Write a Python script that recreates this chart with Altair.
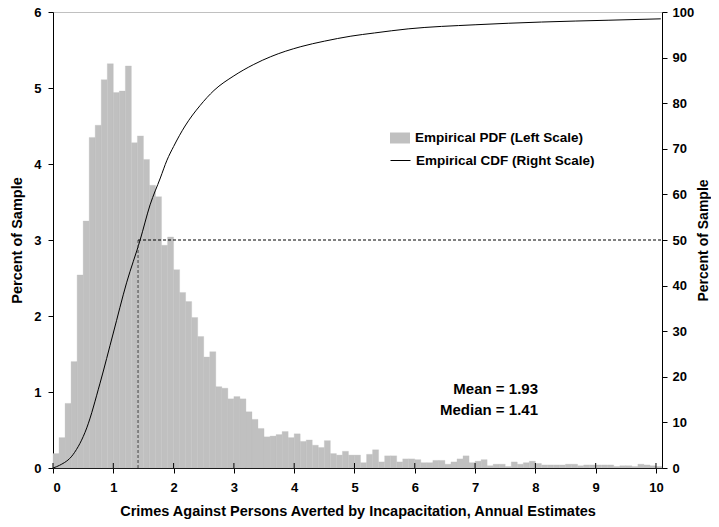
import altair as alt
import pandas as pd

# ---- data ----
bin_width = 0.1
pdf_values = [
    0.19, 0.40, 0.85, 1.40, 2.54, 3.25, 4.35, 4.51, 5.11, 5.32,
    4.94, 4.96, 5.29, 4.28, 4.37, 4.06, 3.72, 3.57, 2.93, 3.04,
    2.61, 2.31, 2.19, 1.98, 1.73, 1.46, 1.53, 1.07, 1.05, 0.91,
    0.94, 0.91, 0.74, 0.64, 0.52, 0.41, 0.42, 0.44, 0.48, 0.40,
    0.45, 0.35, 0.37, 0.30, 0.27, 0.36, 0.19, 0.17, 0.22, 0.17,
    0.17, 0.07, 0.18, 0.24, 0.08, 0.16, 0.16, 0.08, 0.12, 0.12,
    0.11, 0.07, 0.07, 0.10, 0.10, 0.05, 0.08, 0.12, 0.16, 0.07,
    0.09, 0.11, 0.03, 0.05, 0.05, 0.02, 0.08, 0.05, 0.07, 0.09,
    0.06, 0.04, 0.04, 0.04, 0.04, 0.05, 0.05, 0.03, 0.04, 0.04,
    0.04, 0.04, 0.04, 0.02, 0.03, 0.03, 0.02, 0.05, 0.04, 0.03,
    0.02,
]
bin_start = [round(i * bin_width, 1) for i in range(len(pdf_values))]

cdf_x = [0.0, 0.11, 0.33, 0.56, 0.78, 1.0, 1.22, 1.445, 1.61, 1.78, 1.89, 2.0,
         2.19, 2.44, 2.67, 3.0, 3.33, 3.61, 4.11, 4.5, 4.94, 5.33, 5.89, 7.0,
         8.1, 9.22, 10.08]
cdf_y = [0.0, 0.6, 2.9, 8.8, 18.6, 29.6, 40.6, 50.0, 57.7, 63.6, 67.5, 70.5,
         75.0, 79.5, 82.8, 86.0, 88.5, 90.2, 92.4, 93.6, 94.7, 95.4, 96.3, 97.2,
         97.8, 98.2, 98.5]

x_ticks = [0, 1, 2, 3, 4, 5, 6, 7, 8, 9, 10]
left_ticks = [0, 1, 2, 3, 4, 5, 6]
right_ticks = [0, 10, 20, 30, 40, 50, 60, 70, 80, 90, 100]

mean_value = 1.93
median_value = 1.41
median_cdf = 50.0
pdf_label = "Empirical PDF (Left Scale)"
cdf_label = "Empirical CDF (Right Scale)"
x_title = "Crimes Against Persons Averted by Incapacitation, Annual Estimates"
y_title = "Percent of Sample"

x_max = 10.1
FONT = "Liberation Sans"
GRAY = "#c0c0c0"

pdf_df = pd.DataFrame({
    "start": bin_start,
    "end": [round(s + bin_width, 1) for s in bin_start],
    "pdf": pdf_values,
    "pdf_series": pdf_label,
})
cdf_df = pd.DataFrame({"x": cdf_x, "cdf": cdf_y, "cdf_series": cdf_label})

W, H = 609, 456

x_scale = alt.Scale(domain=[0, x_max], nice=False, zero=False)
y_left_scale = alt.Scale(domain=[0, 6], nice=False)
y_right_scale = alt.Scale(domain=[0, 100], nice=False)

x_axis = alt.Axis(values=x_ticks, title=x_title, tickSize=5, labelPadding=8,
                  titlePadding=10, grid=False, format="d")

legend_common = dict(title=None, orient="none", labelFont=FONT, labelFontSize=13.5,
                     labelFontWeight="bold", labelColor="black", labelOffset=5,
                     labelLimit=400)

bars = alt.Chart(pdf_df).mark_rect(stroke=GRAY, strokeWidth=0.3).encode(
    x=alt.X("start:Q", scale=x_scale, axis=x_axis),
    x2="end:Q",
    y=alt.Y("pdf:Q", scale=y_left_scale,
            axis=alt.Axis(values=left_ticks, title=y_title, orient="left",
                          tickSize=5, labelPadding=7, titlePadding=9, grid=False)),
    y2=alt.datum(0),
    fill=alt.Fill("pdf_series:N",
                  scale=alt.Scale(domain=[pdf_label], range=[GRAY]),
                  legend=alt.Legend(legendX=337, legendY=116,
                                    symbolType="M-1,-0.55H1V0.55H-1Z", symbolSize=400,
                                    symbolStrokeWidth=0, **legend_common)),
)

# inner halves of the crossing x-axis ticks
tick_df = pd.DataFrame({"t": x_ticks})
inner_ticks = alt.Chart(tick_df).mark_rule(color="black", strokeWidth=1).encode(
    x=alt.X("t:Q", scale=x_scale),
    y=alt.value(H - 5),
    y2=alt.value(H),
)

note_style = dict(align="right", baseline="middle", font=FONT, fontSize=15,
                  fontWeight="bold", color="black")
mean_df = pd.DataFrame({"txt": [f"Mean = {mean_value:.2f}"]})
median_df = pd.DataFrame({"txt": [f"Median = {median_value:.2f}"]})
mean_note = alt.Chart(mean_df).mark_text(**note_style).encode(
    x=alt.value(485), y=alt.value(377), text="txt:N")
median_note = alt.Chart(median_df).mark_text(**note_style).encode(
    x=alt.value(485), y=alt.value(398), text="txt:N")

left_layer = alt.layer(bars, inner_ticks, mean_note, median_note)

cdf_line = alt.Chart(cdf_df).mark_line(strokeWidth=1, interpolate="monotone").encode(
    x=alt.X("x:Q", scale=x_scale),
    y=alt.Y("cdf:Q", scale=y_right_scale,
            axis=alt.Axis(values=right_ticks, title=y_title, orient="right",
                          tickSize=5, labelPadding=5, titlePadding=17,
                          titleAngle=270, titleFontSize=14, grid=False)),
    stroke=alt.Stroke("cdf_series:N",
                      scale=alt.Scale(domain=[cdf_label], range=["black"]),
                      legend=alt.Legend(legendX=337, legendY=138,
                                        symbolType="stroke", symbolSize=400,
                                        symbolStrokeWidth=1, **legend_common)),
)

vline_df = pd.DataFrame({"x": [median_value], "y0": [0.0], "y1": [median_cdf]})
vline = alt.Chart(vline_df).mark_rule(color="#404040", strokeDash=[3, 2], strokeWidth=1).encode(
    x=alt.X("x:Q", scale=x_scale),
    y=alt.Y("y0:Q", scale=y_right_scale),
    y2="y1:Q",
)
hline_df = pd.DataFrame({"x0": [median_value], "x1": [x_max], "y": [median_cdf]})
hline = alt.Chart(hline_df).mark_rule(color="black", strokeDash=[3, 2], strokeWidth=1).encode(
    x=alt.X("x0:Q", scale=x_scale),
    x2="x1:Q",
    y=alt.Y("y:Q", scale=y_right_scale),
)

right_layer = alt.layer(cdf_line, vline, hline)

chart = alt.layer(left_layer, right_layer).resolve_scale(
    y="independent", fill="independent", stroke="independent"
).properties(
    width=W, height=H,
    autosize=alt.AutoSizeParams(type="none"),
    padding={"left": 45, "top": 4, "right": 49, "bottom": 58},
).configure_view(
    stroke=GRAY, strokeWidth=1
).configure_axis(
    labelFont=FONT, labelFontSize=13, labelFontWeight="bold", labelColor="black",
    titleFont=FONT, titleFontSize=14.5, titleFontWeight="bold", titleColor="black",
    domainColor="black", domainWidth=1, tickColor="black", tickWidth=1,
)

chart.save("out.html", embed_options={"renderer": "svg", "actions": False})
